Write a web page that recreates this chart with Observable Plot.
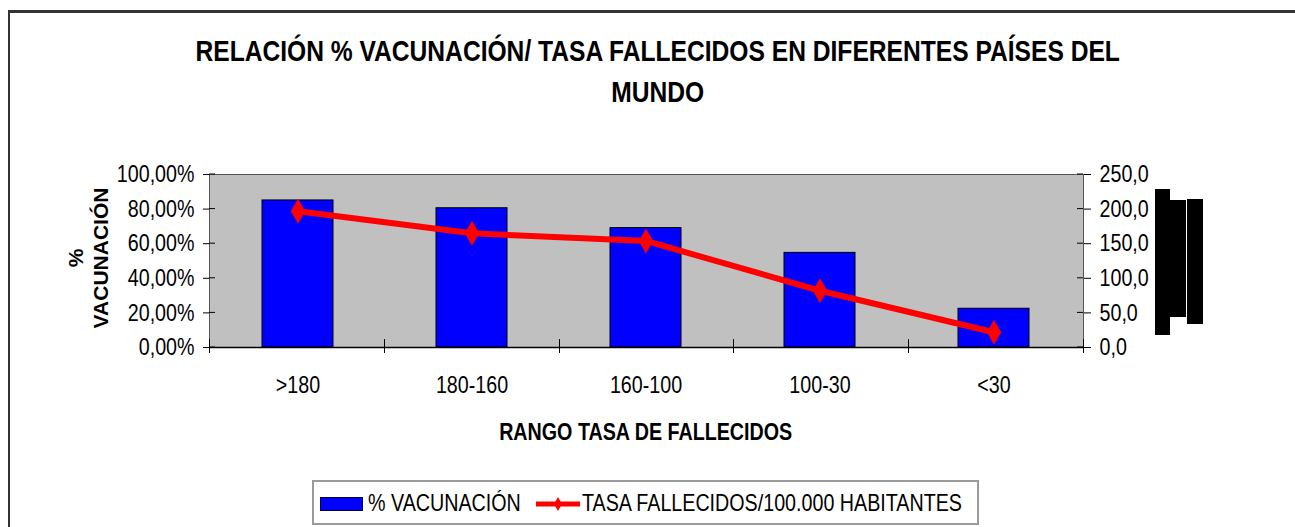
<!DOCTYPE html>
<html>
<head>
<meta charset="utf-8">
<script src="https://cdn.jsdelivr.net/npm/d3@7"></script>
<script src="https://cdn.jsdelivr.net/npm/@observablehq/plot@0.6"></script>
<style>
  html, body { margin: 0; padding: 0; background: #fff; }
  #wrap { position: relative; width: 1295px; height: 527px; overflow: hidden; background: #fff;
          font-family: "Liberation Sans", Arial, sans-serif; color: #000; }
  #border { position: absolute; left: 8px; top: 10px; width: 1400px; height: 600px;
            border-left: 2px solid #333; border-top: 3px solid #333; box-sizing: border-box; }
  .nar { display: inline-block; transform: scaleX(0.82); white-space: nowrap; }
  #title { position: absolute; left: 10px; top: 30px; width: 1295px; text-align: center;
           font-weight: bold; font-size: 30px; line-height: 41px; }
  #title .nar { transform-origin: 50% 50%; }
  #chart { position: absolute; left: 0; top: 150px; }
  #ytitle { position: absolute; left: -12px; top: 233px; width: 200px; height: 50px; text-align: center;
            font-weight: bold; font-size: 21px; line-height: 25px; transform: rotate(-90deg); }
  #xtitle { position: absolute; left: 0; width: 1295px; top: 417px; text-align: center;
            font-weight: bold; font-size: 24px; line-height: 30px; }
  #xtitle .nar { transform-origin: 50% 50%; margin-left: -3px; }
  #legend { position: absolute; left: 312px; top: 480px; width: 667px; height: 45px; box-sizing: border-box;
            border: 2px solid #9a9a9a; font-size: 24px; }
  #legend .sw1 { position: absolute; left: 6px; top: 15px; width: 43px; height: 14px; background: #0000ff;
                 border: 1px solid #000033; box-sizing: border-box; }
  #legend .t1, #legend .t2 { position: absolute; top: 6px; line-height: 30px; transform-origin: 0 50%; }
  #legend .t1 { left: 54px; }
  #legend .sw2 { position: absolute; left: 221px; top: 10px; }
  #legend .t2 { left: 268px; }
  .blk { position: absolute; background: #000; }
</style>
</head>
<body>
<div id="wrap">
  <div id="border"></div>
  <div id="title"></div>
  <div id="chart"></div>
  <div id="ytitle"></div>
  <div id="xtitle"></div>
  <div id="legend"></div>
  <div class="blk" style="left:1155px;top:189px;width:15px;height:146px"></div>
  <div class="blk" style="left:1170px;top:200px;width:16px;height:117px"></div>
  <div class="blk" style="left:1187px;top:199px;width:16px;height:125px"></div>
</div>
<script>
// ---- data ----
const titleLines = ["RELACIÓN % VACUNACIÓN/ TASA FALLECIDOS EN DIFERENTES PAÍSES DEL", "MUNDO"];
const categories = [">180", "180-160", "160-100", "100-30", "<30"];
const vacunacion = [85.0, 80.5, 69.0, 54.7, 22.4];      // % vacunación (left axis)
const tasaFallecidos = [197, 165, 154, 82, 22];          // tasa fallecidos /100.000 hab (right axis)
const leftTicks = [0, 20, 40, 60, 80, 100];
const rightTicks = [0, 50, 100, 150, 200, 250];
const rightMax = 250;
const yTitleLines = ["%", "VACUNACIÓN"];
const xTitle = "RANGO TASA DE FALLECIDOS";
const legendLabels = ["% VACUNACIÓN", "TASA FALLECIDOS/100.000 HABITANTES"];

const data = categories.map((c, i) => ({cat: c, vac: vacunacion[i], tasa: tasaFallecidos[i], tasaScaled: tasaFallecidos[i] / rightMax * 100}));

// ---- text ----
document.getElementById("title").innerHTML = `<span class="nar">${titleLines.join("<br>")}</span>`;
document.getElementById("ytitle").innerHTML = yTitleLines.join("<br>");
document.getElementById("xtitle").innerHTML = `<span class="nar">${xTitle}</span>`;
document.getElementById("legend").innerHTML =
  `<div class="sw1"></div><div class="t1 nar">${legendLabels[0]}</div>` +
  `<svg class="sw2" width="46" height="24"><line x1="1" x2="45" y1="12" y2="12" stroke="#ff0000" stroke-width="5"/>` +
  `<path d="M23,5 L27,12 L23,19 L19,12 Z" fill="#ff0000"/></svg>` +
  `<div class="t2 nar">${legendLabels[1]}</div>`;

const comma = (s) => s.replace(".", ",");

function extraTicks(index, scales, values, dim) {
  const g = d3.create("svg:g").attr("stroke", "#000").attr("stroke-width", 1).attr("fill", "none");
  const x0 = dim.marginLeft, x1 = dim.width - dim.marginRight;
  const yb = dim.height - dim.marginBottom;
  const n = categories.length;
  for (let i = 0; i <= n; i++) {
    const x = Math.round(x0 + i * (x1 - x0) / n) + 0.5;
    g.append("line").attr("x1", x).attr("x2", x).attr("y1", yb - 8).attr("y2", yb + 6);
  }
  for (const t of leftTicks) {
    const y = scales.y(t);
    g.append("line").attr("x1", x0).attr("x2", x0 + 6).attr("y1", y).attr("y2", y);
    g.append("line").attr("x1", x1 - 6).attr("x2", x1).attr("y1", y).attr("y2", y);
  }
  return g.node();
}

const chart = Plot.plot({
  width: 1295,
  height: 310,
  marginTop: 24,
  marginBottom: 113,
  marginLeft: 209,
  marginRight: 212,
  style: {fontFamily: '"Liberation Sans", Arial, sans-serif', fontSize: "24px", color: "#000", background: "transparent"},
  x: {type: "band", domain: categories, paddingInner: 0.59, paddingOuter: 0.295, align: 0.5, label: null},
  y: {domain: [0, 100], label: null},
  marks: [
    Plot.frame({fill: "#c0c0c0", stroke: "#555"}),
    Plot.barY(data, {x: "cat", y: "vac", fill: "#0000ff", stroke: "#000", strokeWidth: 1}),
    Plot.ruleY([0], {stroke: "#000", strokeWidth: 1.5}),
    Plot.axisX({tickSize: 0, tickPadding: 28, fontSize: 24, label: null}),
    Plot.axisY(leftTicks, {anchor: "left", tickSize: 6, tickPadding: 9, fontSize: 24, tickFormat: d => comma(d.toFixed(2)) + "%", label: null}),
    Plot.axisY(rightTicks.map(t => t / rightMax * 100), {anchor: "right", tickSize: 7, tickPadding: 9, fontSize: 24, tickFormat: d => comma((d / 100 * rightMax).toFixed(1)), label: null}),
    extraTicks,
    Plot.line(data, {x: "cat", y: "tasaScaled", stroke: "#ff0000", strokeWidth: 6, strokeLinejoin: "round"}),
    Plot.dot(data, {x: "cat", y: "tasaScaled", symbol: "diamond", r: 7.6, fill: "#ff0000", stroke: "none"})
  ]
});

// condense the axis text horizontally (the reference uses a narrow face)
chart.querySelectorAll("text").forEach(t => {
  const x = +t.getAttribute("x") || 0, y = +t.getAttribute("y") || 0;
  const tr = t.getAttribute("transform") || "";
  t.setAttribute("transform", `${tr} translate(${x},${y}) scale(0.82,1) translate(${-x},${-y})`);
});
document.getElementById("chart").appendChild(chart);
</script>
</body>
</html>
